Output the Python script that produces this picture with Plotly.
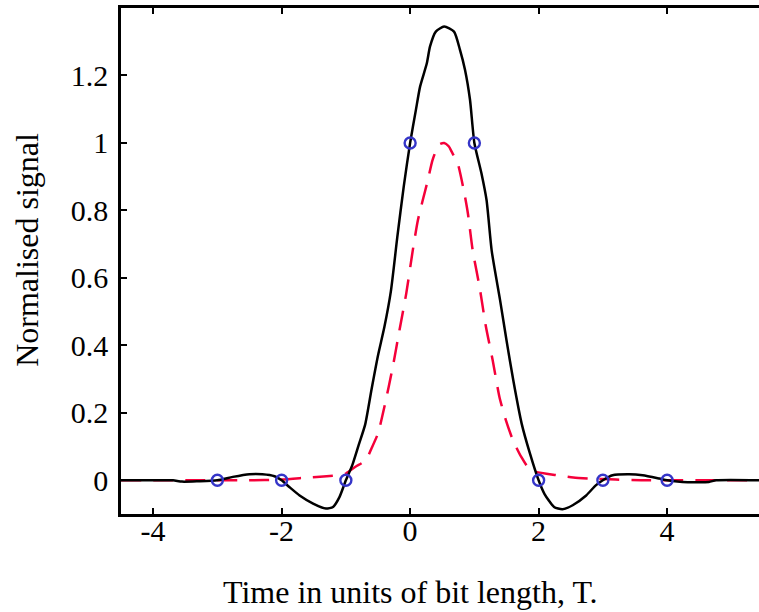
import plotly.graph_objects as go

# Black solid curve (received signal)
black_x = [-4.5, -3.9, -3.69, -3.55, -3.3, -3.0, -2.76, -2.5, -2.3, -2.11, -2.0,
           -1.88, -1.72, -1.51, -1.31, -1.2, -1.1, -1.0, -0.9, -0.8, -0.7, -0.6,
           -0.5, -0.4, -0.3, -0.2, -0.1, 0.0, 0.09, 0.155, 0.26, 0.31, 0.40,
           0.53, 0.683, 0.776, 0.854, 0.932, 1.0, 1.11, 1.19, 1.27, 1.40,
           1.50, 1.605, 1.736, 1.866, 2.0, 2.09, 2.24, 2.37, 2.53, 2.74, 2.89,
           3.0, 3.15, 3.41, 3.62, 3.88, 4.0, 4.24, 4.65, 4.76, 5.5]
black_y = [0.0, 0.0, 0.0, -0.004, -0.003, 0.0, 0.01, 0.018, 0.018, 0.012, 0.0,
           -0.02, -0.045, -0.069, -0.084, -0.079, -0.05, 0.0, 0.045, 0.105, 0.165, 0.27,
           0.37, 0.455, 0.56, 0.72, 0.87, 1.0, 1.098, 1.167, 1.236, 1.286, 1.33,
           1.345, 1.33, 1.276, 1.217, 1.128, 1.0, 0.91, 0.83, 0.68, 0.534,
           0.415, 0.297, 0.168, 0.079, 0.0, -0.04, -0.079, -0.086, -0.074, -0.045, -0.015,
           0.0, 0.015, 0.018, 0.015, 0.005, 0.0, -0.005, -0.005, 0.0, 0.0]

# Red dashed curve (single pulse)
red_x = [-4.5, -2.5, -2.0, -1.6, -1.3, -1.1, -1.0, -0.85, -0.69, -0.6, -0.5, -0.4,
         -0.27, -0.166, -0.06, 0.04, 0.12, 0.196, 0.27, 0.35, 0.45, 0.53, 0.6, 0.66,
         0.74, 0.845, 0.9, 0.975, 1.08, 1.18, 1.285, 1.39, 1.49, 1.6, 1.73, 1.85,
         1.96, 2.28, 2.54, 2.8, 3.2, 3.6, 5.5]
red_y = [0.0, 0.0, 0.002, 0.008, 0.012, 0.015, 0.02, 0.04, 0.059, 0.095, 0.139, 0.218,
         0.336, 0.445, 0.554, 0.68, 0.77, 0.83, 0.885, 0.95, 0.995, 1.0, 0.99, 0.969,
         0.94, 0.85, 0.79, 0.68, 0.574, 0.455, 0.356, 0.247, 0.178, 0.119, 0.069, 0.035,
         0.025, 0.015, 0.008, 0.005, 0.002, 0.0, 0.0]

# Sample points (open circles)
sample_x = [-3, -2, -1, 0, 1, 2, 3, 4]
sample_y = [0, 0, 0, 1, 1, 0, 0, 0]

x_ticks = [-4, -2, 0, 2, 4]
y_ticks = [0, 0.2, 0.4, 0.6, 0.8, 1, 1.2]
y_tick_text = ["0", "0.2", "0.4", "0.6", "0.8", "1", "1.2"]

x_title = "Time in units of bit length, T."
y_title = "Normalised signal"

FONT = "Liberation Serif, Times New Roman, serif"
FS = 30
FS_TITLE = 32

fig = go.Figure()
fig.add_trace(go.Scatter(x=red_x, y=red_y, mode="lines",
                         line=dict(color="#f5003a", width=2.5, dash="20px,12px",
                                   shape="spline", smoothing=0.6),
                         hoverinfo="skip"))
fig.add_trace(go.Scatter(x=black_x, y=black_y, mode="lines",
                         line=dict(color="black", width=2.5, shape="spline", smoothing=0.6),
                         hoverinfo="skip"))
fig.add_trace(go.Scatter(x=sample_x, y=sample_y, mode="markers",
                         marker=dict(symbol="circle-open", size=11, color="#3535c8",
                                     line=dict(width=2.4, color="#3535c8")),
                         hoverinfo="skip"))

fig.update_layout(
    width=759, height=612,
    margin=dict(l=121, r=0, t=8, b=98),
    paper_bgcolor="white", plot_bgcolor="white",
    showlegend=False,
    font=dict(family=FONT, size=FS, color="black"),
    annotations=[
        dict(text=x_title, xref="paper", yref="paper", x=0.4545, y=0,
             xanchor="center", yanchor="middle", yshift=-78, showarrow=False,
             font=dict(family=FONT, size=FS_TITLE, color="black")),
        dict(text=y_title, xref="paper", yref="paper", x=0, y=0.522,
             xanchor="center", yanchor="middle", xshift=-94, textangle=-90,
             showarrow=False, font=dict(family=FONT, size=FS_TITLE, color="black")),
    ],
    yaxis2=dict(overlaying="y", side="right", range=[-0.1, 1.4], tickvals=y_ticks,
                showticklabels=False, ticks="inside", ticklen=3, tickwidth=2,
                tickcolor="black", showline=False, showgrid=False, zeroline=False),
)
fig.update_xaxes(
    range=[-4.5, 5.43], tickvals=x_ticks, ticktext=[str(v) for v in x_ticks],
    showgrid=False, zeroline=False,
    showline=True, linecolor="black", linewidth=2.5, mirror="ticks",
    ticks="inside", ticklen=6, tickwidth=2, tickcolor="black",
    ticklabelstandoff=-12,
)
fig.update_yaxes(
    selector=dict(overlaying=None),
    range=[-0.1, 1.4], tickvals=y_ticks, ticktext=y_tick_text,
    showgrid=False, zeroline=False,
    showline=True, linecolor="black", linewidth=2.5, mirror=False,
    ticks="inside", ticklen=6, tickwidth=2, tickcolor="black",
    ticklabelstandoff=4,
)

fig.write_html("out.html")
